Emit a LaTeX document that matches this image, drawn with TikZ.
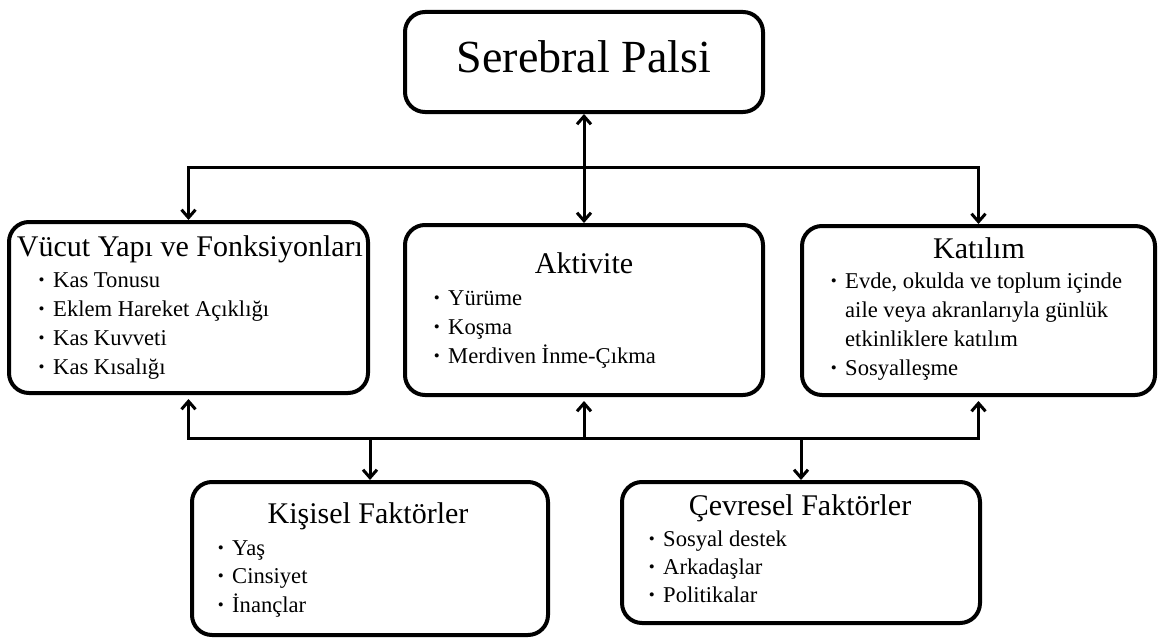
\documentclass[tikz,border=0pt]{standalone}
\usepackage{fontspec}
\setmainfont{Liberation Serif}
\usetikzlibrary{arrows.meta}
\newcommand{\bul}{\llap{\raisebox{1.5pt}{\fontsize{17}{17}\selectfont\textbullet}\hspace{8.5pt}}}
\begin{document}
\begin{tikzpicture}[x=1pt,y=-1pt,
  box/.style={draw, line width=4pt, rounded corners=20pt, inner sep=0pt},
  ttl/.style={font=\fontsize{46}{50}\selectfont, anchor=base, inner sep=0pt},
  hd/.style={font=\fontsize{30}{34}\selectfont, anchor=base, inner sep=0pt},
  itm/.style={font=\fontsize{22.6}{29}\selectfont, anchor=base west, inner sep=0pt},
  con/.style={line width=3pt},
  arr/.style={con, -{Straight Barb[length=8pt,width=14pt]}},
  darr/.style={con, {Straight Barb[length=8pt,width=14pt]}-{Straight Barb[length=8pt,width=14pt]}}]
\useasboundingbox (0,0) rectangle (1158,642);

% boxes
\node[box, minimum width=358pt, minimum height=100pt] (sp) at (584,62) {};
\node[box, minimum width=359pt, minimum height=171pt] (vy) at (188.5,307.5) {};
\node[box, minimum width=358pt, minimum height=170pt] (akt) at (584,310) {};
\node[box, minimum width=353pt, minimum height=169pt] (kat) at (978.5,310.5) {};
\node[box, minimum width=356pt, minimum height=153pt] (kis) at (370,558.5) {};
\node[box, minimum width=358pt, minimum height=141pt] (cev) at (801,552.5) {};

% texts
\node[ttl] (spt) at (584,72) {Serebral Palsi};

\node[hd] (vyt) at (190,256) {Vücut Yapı ve Fonksiyonları};
\node[itm] (vy1) at (53,287) {\bul Kas Tonusu};
\node[itm] (vy2) at (53,316) {\bul Eklem Hareket Açıklığı};
\node[itm] (vy3) at (53,345) {\bul Kas Kuvveti};
\node[itm] (vy4) at (53,374) {\bul Kas Kısalığı};

\node[hd] (aktt) at (584,273) {Aktivite};
\node[itm] (akt1) at (448,305) {\bul Yürüme};
\node[itm] (akt2) at (448,334) {\bul Koşma};
\node[itm] (akt3) at (448,363) {\bul Merdiven İnme-Çıkma};

\node[hd] (katt) at (979,258) {Katılım};
\node[itm] (kat1) at (845,288) {\bul Evde, okulda ve toplum içinde};
\node[itm] (kat2) at (845,317) {aile veya akranlarıyla günlük};
\node[itm] (kat3) at (845,346) {etkinliklere katılım};
\node[itm] (kat4) at (845,375) {\bul Sosyalleşme};

\node[hd] (kist) at (368,523) {Kişisel Faktörler};
\node[itm] (kis1) at (232,555) {\bul Yaş};
\node[itm] (kis2) at (232,583) {\bul Cinsiyet};
\node[itm] (kis3) at (232,612) {\bul İnançlar};

\node[hd] (cevt) at (800,515) {Çevresel Faktörler};
\node[itm] (cev1) at (663,546) {\bul Sosyal destek};
\node[itm] (cev2) at (663,574) {\bul Arkadaşlar};
\node[itm] (cev3) at (663,602) {\bul Politikalar};

% connectors
\coordinate (tl) at (188.5,167);
\coordinate (tr) at (978.5,167);
\coordinate (bl) at (188.5,438);
\coordinate (br) at (978.5,438);

\draw[arr] (tr) -- (tl) -- (vy.north);
\draw[arr] (tl) -- (tr) -- (kat.north);
\draw[darr] (sp.south) -- (akt.north);

\draw[arr, shorten >=4pt] (br) -- (bl) -- (vy.south);
\draw[arr, shorten >=4pt] (bl) -- (br) -- (kat.south);
\draw[arr, shorten >=4pt] (akt.south |- bl) -- (akt.south);
\draw[arr] (kis.north |- bl) -- (kis.north);
\draw[arr] (cev.north |- bl) -- (cev.north);
\end{tikzpicture}
\end{document}
